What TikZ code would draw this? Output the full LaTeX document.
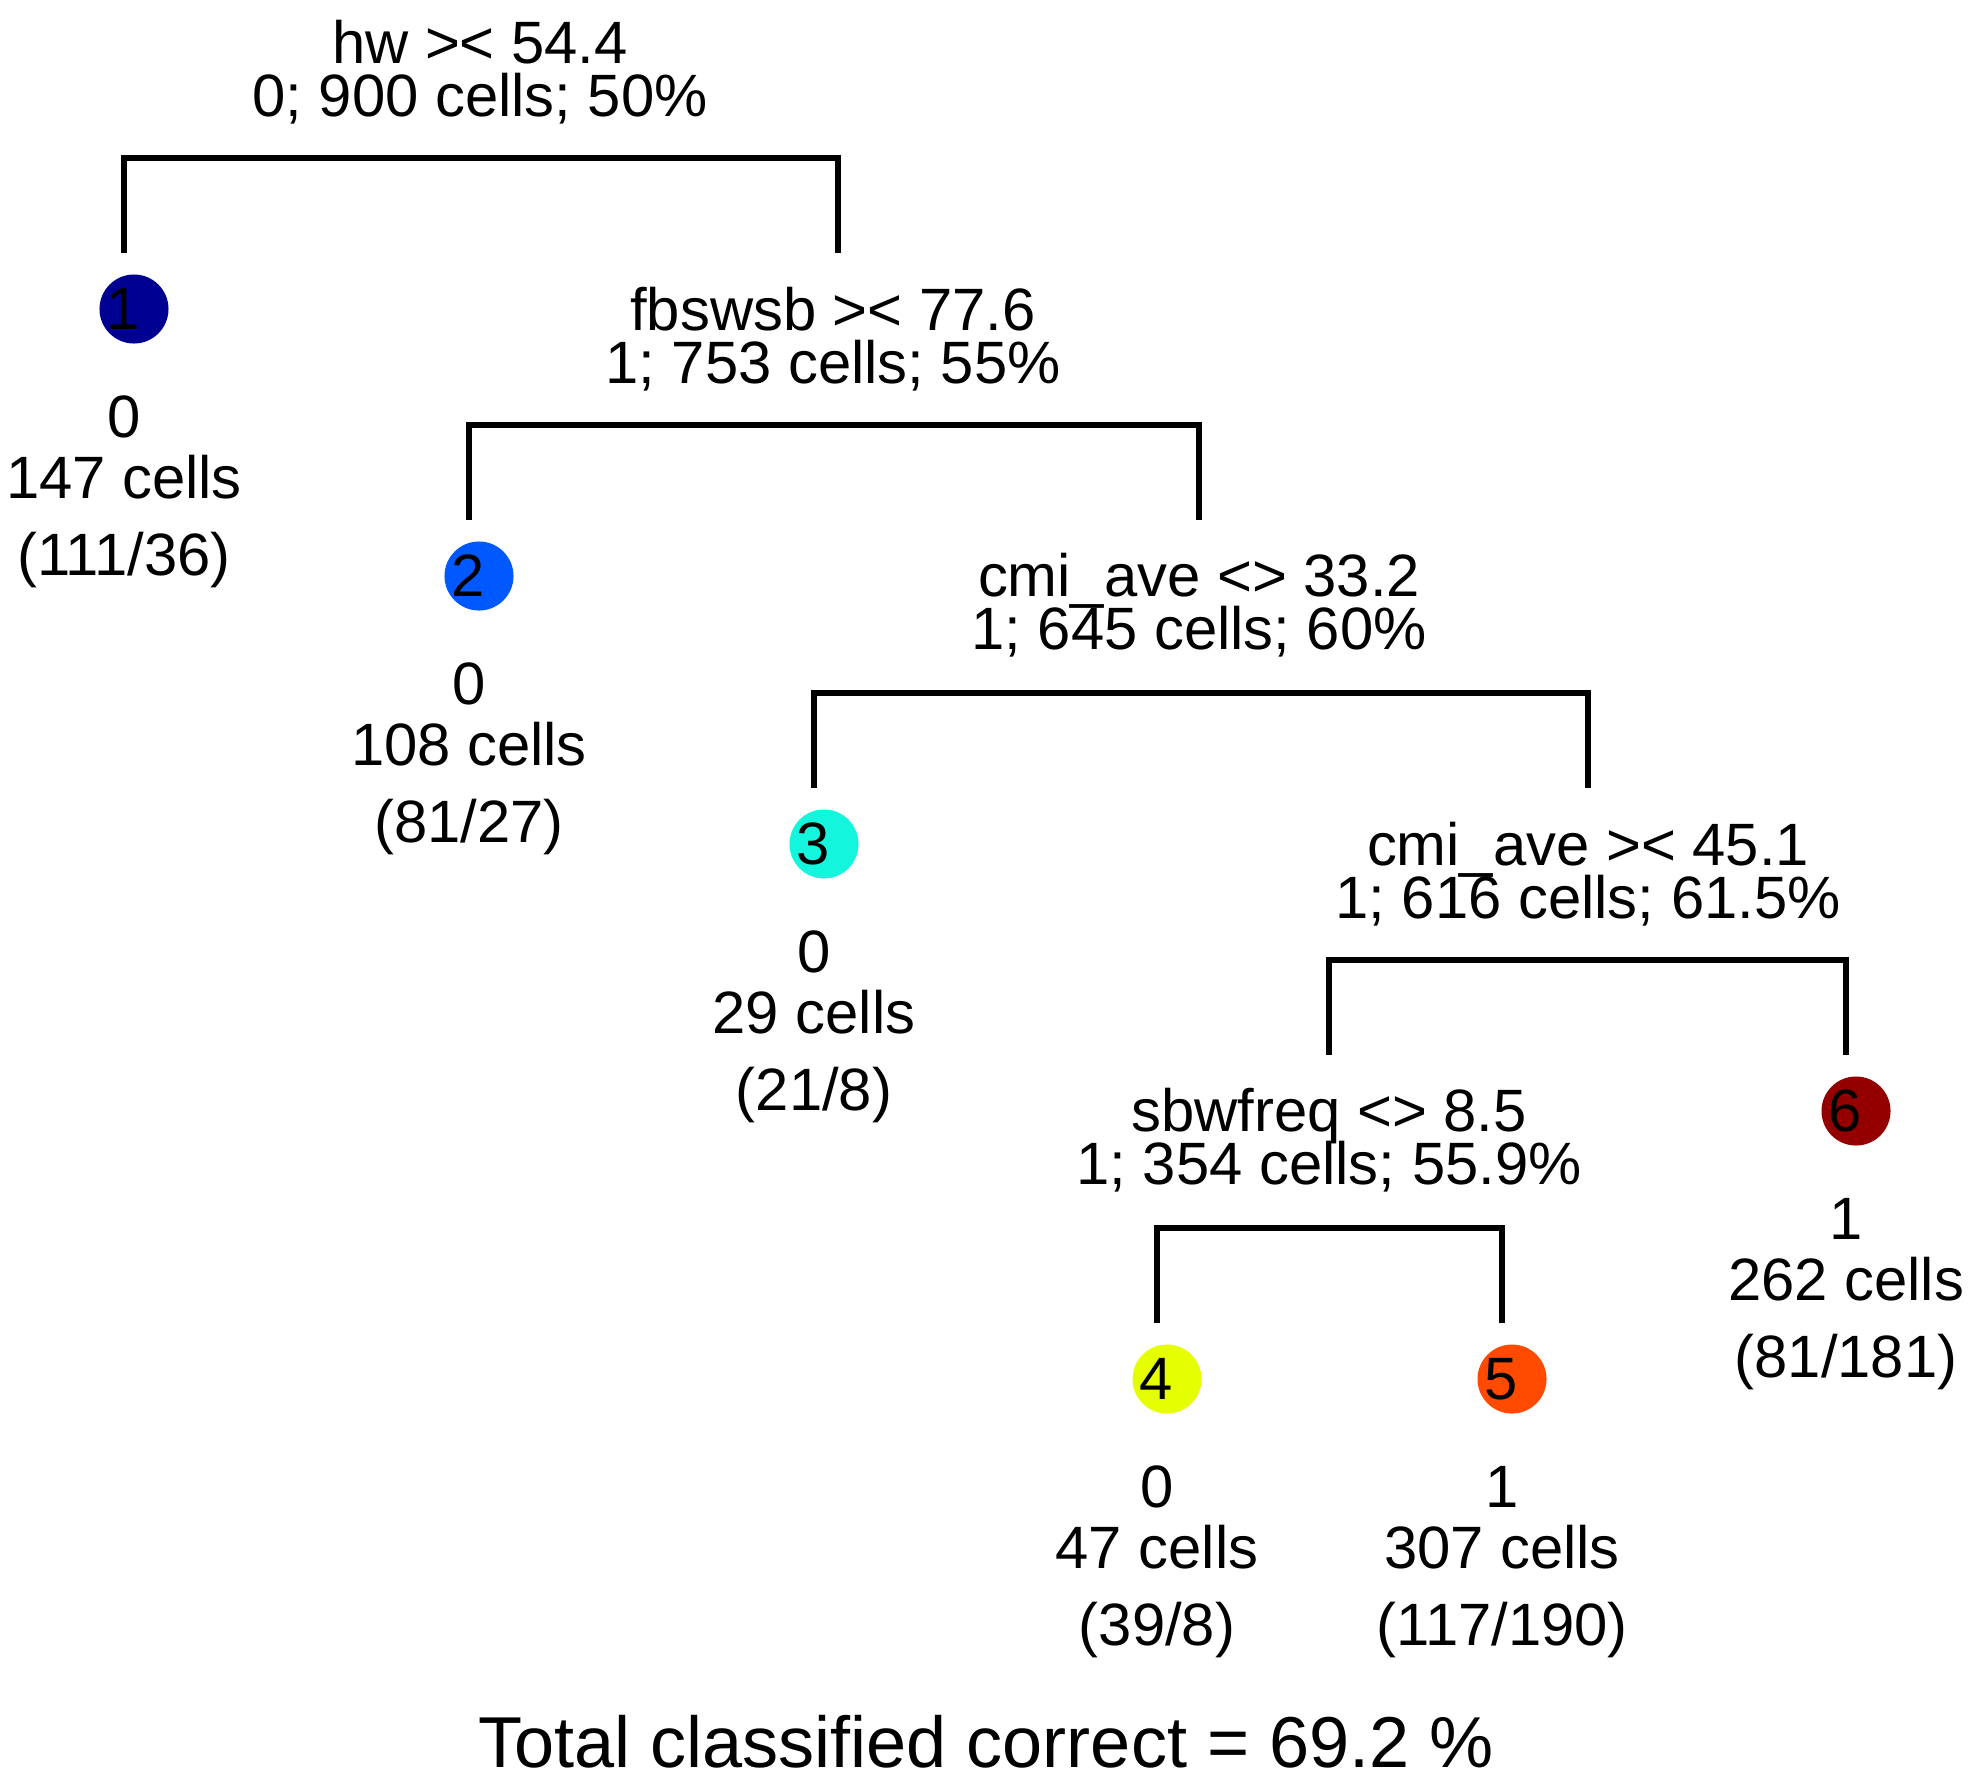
\documentclass[tikz,border=0pt]{standalone}
\usepackage{fontspec}
\setmainfont{Liberation Sans}
\usepackage{tikz}
\usetikzlibrary{calc, positioning}

\definecolor{leafone}{RGB}{0,0,145}
\definecolor{leaftwo}{RGB}{0,88,255}
\definecolor{leafthree}{RGB}{20,245,222}
\definecolor{leaffour}{RGB}{230,255,0}
\definecolor{leaffive}{RGB}{255,74,0}
\definecolor{leafsix}{RGB}{148,0,0}

\newcommand{\nodeid}[1]{\hspace*{-0.22cm}#1}

\begin{document}
\begin{tikzpicture}[x=0.01cm, y=-0.01cm]

        % Setup the styles for the tree
        \tikzset{split style/.style={anchor=base, align=center, inner sep=0pt,
                                     font={\fontsize{17}{14.8}\selectfont\lineskiplimit=-100pt}},
                 leaf style/.style={anchor=base, align=center, inner sep=0pt,
                                    font={\fontsize{17}{17.1}\selectfont\lineskiplimit=-100pt}},
                 id style/.style={circle, minimum size=0.69cm, inner sep=0pt,
                                  font={\fontsize{17}{17}\selectfont}},
                 bracket/.style={line width=1.7pt, line join=miter}}

        \useasboundingbox (0,0) rectangle (1979,1790);

        % Draw the splits (anchored at the baseline of the last line)
        \node[split style] at (480, 116)   (root) {hw >< 54.4\\0; 900 cells; 50\%};
        \node[split style] at (833, 383)   (s2)   {fbswsb >< 77.6\\1; 753 cells; 55\%};
        \node[split style] at (1199, 649)  (s3)   {cmi\_ave <> 33.2\\1; 645 cells; 60\%};
        \node[split style] at (1588, 918)  (s4)   {cmi\_ave >< 45.1\\1; 616 cells; 61.5\%};
        \node[split style] at (1329, 1184) (s5)   {sbwfreq <> 8.5\\1; 354 cells; 55.9\%};

        % Draw the terminal nodes
        \node[id style, fill=leafone]   at (134, 309)   (n1) {\nodeid{1}};
        \node[id style, fill=leaftwo]   at (479, 576)   (n2) {\nodeid{2}};
        \node[id style, fill=leafthree] at (824, 844)   (n3) {\nodeid{3}};
        \node[id style, fill=leaffour]  at (1167, 1379) (n4) {\nodeid{4}};
        \node[id style, fill=leaffive]  at (1512, 1379) (n5) {\nodeid{5}};
        \node[id style, fill=leafsix]   at (1856, 1111) (n6) {\nodeid{6}};

        \node[leaf style] at (124, 575)   (t1) {0\\147 cells\\[4.8pt](111/36)};
        \node[leaf style] at (469, 842)   (t2) {0\\108 cells\\[4.8pt](81/27)};
        \node[leaf style] at (814, 1110)  (t3) {0\\29 cells\\[4.8pt](21/8)};
        \node[leaf style] at (1157, 1645) (t4) {0\\47 cells\\[4.8pt](39/8)};
        \node[leaf style] at (1502, 1645) (t5) {1\\307 cells\\[4.8pt](117/190)};
        \node[leaf style] at (1846, 1377) (t6) {1\\262 cells\\[4.8pt](81/181)};

        % Leg ends above the children
        \coordinate (root-l) at ($(n1)+(-10,-56)$);
        \coordinate (root-r) at (838, 253);
        \coordinate (s2-l) at ($(n2)+(-10,-56)$);
        \coordinate (s2-r) at (1199, 520);
        \coordinate (s3-l) at ($(n3)+(-10,-56)$);
        \coordinate (s3-r) at (1588, 788);
        \coordinate (s4-l) at (1329, 1055);
        \coordinate (s4-r) at ($(n6)+(-10,-56)$);
        \coordinate (s5-l) at ($(n4)+(-10,-56)$);
        \coordinate (s5-r) at ($(n5)+(-10,-56)$);

        % Connect the splits with brackets
        \foreach \s in {root, s2, s3, s4, s5}
            \draw[bracket] (\s-l) -- ++(0,-95) -| (\s-r);

        \node[anchor=base, inner sep=0pt, font={\fontsize{20.5}{24}\selectfont}]
            at (986, 1767) (total) {Total classified correct = 69.2 \%};
    \end{tikzpicture}
\end{document}
